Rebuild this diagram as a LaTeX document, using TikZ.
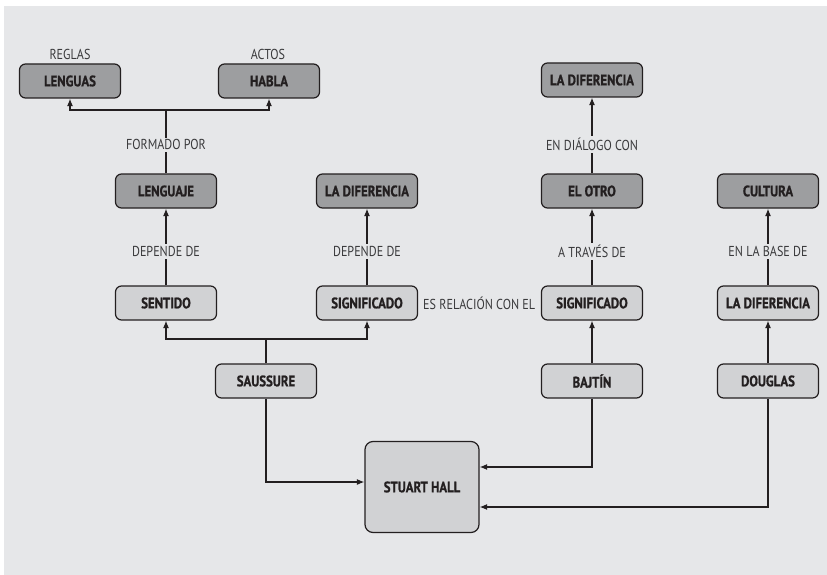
\documentclass[tikz,border=0pt]{standalone}
\usepackage{fontspec}
\setmainfont{PT Sans}[FakeStretch=0.84, BoldFeatures={FakeBold=0.9}]
\usetikzlibrary{arrows.meta}
\definecolor{panel}{HTML}{E6E7E9}
\definecolor{darkbox}{HTML}{9D9EA0}
\definecolor{lightbox}{HTML}{D1D2D4}
\definecolor{ink}{HTML}{231F20}
\definecolor{labelink}{HTML}{3A3A3C}
\tikzset{
  box/.style={draw=ink, line width=1.2pt, rounded corners=6pt, minimum width=101pt,
    minimum height=34pt, inner sep=0pt, text=ink,
    font=\fontsize{15.2}{17}\selectfont\bfseries},
  darknode/.style={box, fill=darkbox},
  lightnode/.style={box, fill=lightbox},
  lbl/.style={fill=panel, inner sep=2pt, text=labelink,
    font=\fontsize{14.4}{16}\selectfont},
  conn/.style={draw=ink, line width=1.2pt},
  arr/.style={conn, -{Latex[length=7.5pt,width=6pt]}},
}
\begin{document}
\begin{tikzpicture}[x=1pt, y=-1pt]
% page and grey panel
\path[fill=white] (0,0) rectangle (827,575);
\path[fill=panel] (4,6) rectangle (827,575);
\useasboundingbox (0,0) rectangle (827,575);

% upper row
\node[darknode] (lenguas) at (70,81) {LENGUAS};
\node[darknode] (habla) at (269,81) {HABLA};
\node[lbl, fill=none] (reglas) at (70,54) {REGLAS};
\node[lbl, fill=none] (actos) at (268,54) {ACTOS};
\node[darknode] (difA) at (592,80) {LA DIFERENCIA};

% second row
\node[darknode] (lenguaje) at (166,191) {LENGUAJE};
\node[darknode] (difB) at (367,191) {LA DIFERENCIA};
\node[darknode] (otro) at (592,191) {EL OTRO};
\node[darknode] (cultura) at (768,191) {CULTURA};

% third row
\node[lightnode] (sentido) at (166,303) {SENTIDO};
\node[lightnode] (signifA) at (367,303) {SIGNIFICADO};
\node[lbl, fill=none, anchor=west] (relacion) at (421,303) {ES RELACIÓN CON EL};
\node[lightnode] (signifB) at (592,303) {SIGNIFICADO};
\node[lightnode] (difC) at (768,303) {LA DIFERENCIA};

% authors
\node[lightnode] (saussure) at (266,381) {SAUSSURE};
\node[lightnode] (bajtin) at (592,381) {BAJTÍN};
\node[lightnode] (douglas) at (768,381) {DOUGLAS};
\node[lightnode, minimum width=114pt, minimum height=91pt, rounded corners=8pt] (hall) at (422,487) {STUART HALL};

% junction points of the forks
\coordinate (forkTop) at (166,110);
\coordinate (forkMid) at (266,339);

% lenguaje forks into lenguas and habla
\draw[conn] (lenguaje.north) -- node[lbl, pos=0.45] {FORMADO POR} (forkTop);
\draw[arr] (forkTop) -| (lenguas.south);
\draw[arr] (forkTop) -| (habla.south);

% dependencies
\draw[arr] (sentido.north) -- node[lbl, pos=0.44] {DEPENDE DE} (lenguaje.south);
\draw[arr] (signifA.north) -- node[lbl, pos=0.44] {DEPENDE DE} (difB.south);

% saussure forks into sentido and significado
\draw[conn] (saussure.north) -- (forkMid);
\draw[arr] (forkMid) -| (sentido.south);
\draw[arr] (forkMid) -| (signifA.south);

% bajtin chain
\draw[arr] (bajtin.north) -- (signifB.south);
\draw[arr] (signifB.north) -- node[lbl, pos=0.44] {A TRAVÉS DE} (otro.south);
\draw[arr] (otro.north) -- node[lbl, pos=0.38] {EN DIÁLOGO CON} (difA.south);

% douglas chain
\draw[arr] (douglas.north) -- (difC.south);
\draw[arr] (difC.north) -- node[lbl, pos=0.44] {EN LA BASE DE} (cultura.south);

% authors into stuart hall
\draw[arr] (saussure.south) |- ([yshift=5pt]hall.west);
\draw[arr] (bajtin.south) |- ([yshift=20pt]hall.east);
\draw[arr] (douglas.south) |- ([yshift=-20pt]hall.east);
\end{tikzpicture}
\end{document}
